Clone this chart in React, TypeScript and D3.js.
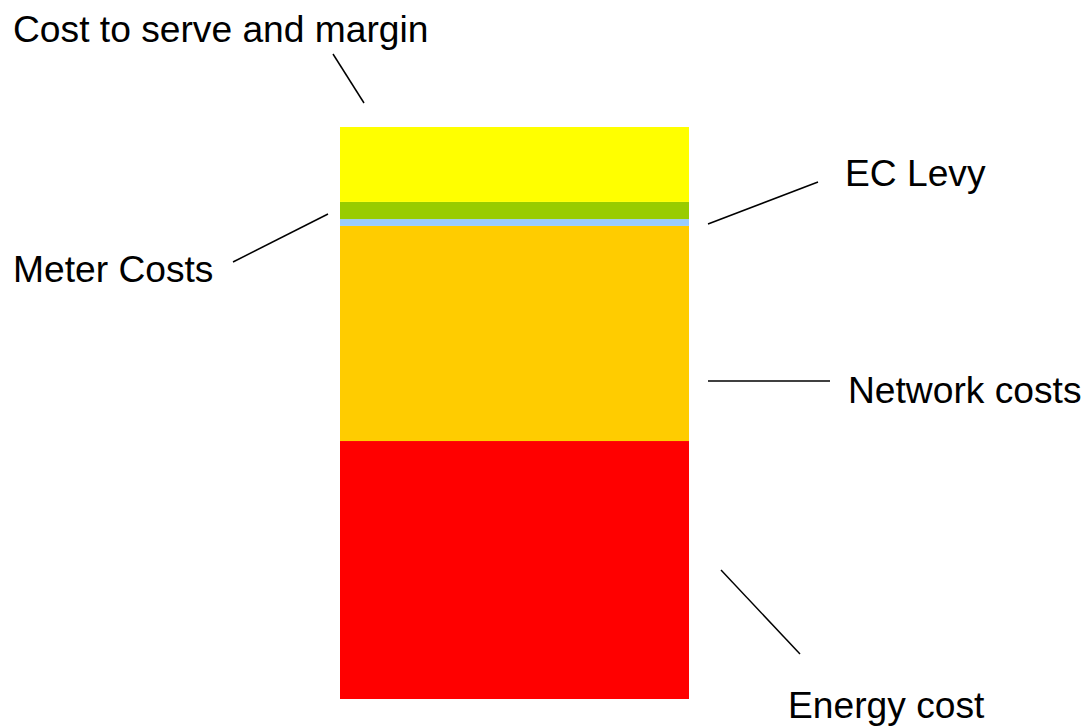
import React from "react";
import * as d3 from "d3";

// Stacked components of the price, bottom to top (share of total, %)
const components = ["Energy cost", "Network costs", "Meter Costs", "EC Levy", "Cost to serve and margin"];
const shares = [45.1, 37.6, 1.2, 3.0, 13.1];
const colours = ["#FF0000", "#FFCC00", "#99CCFF", "#99CC00", "#FFFF00"];
const barCategory = ["Price"];

const W = 1085;
const H = 727;

// Label placement: text anchor point and leader line endpoints
const labelLayout = [
  { text: "Energy cost", tx: 788, ty: 718, line: [721, 570, 800, 654] },
  { text: "Network costs", tx: 848, ty: 403, line: [708, 381, 830, 381] },
  { text: "Meter Costs", tx: 13, ty: 282, line: [233, 262, 328, 214] },
  { text: "EC Levy", tx: 845, ty: 186, line: [708, 224, 818, 182] },
  { text: "Cost to serve and margin", tx: 13, ty: 42, line: [333, 54, 364, 103] },
];

export default function App() {
  const x = d3.scaleBand<string>().domain(barCategory).range([340, 689]).padding(0);
  const y = d3.scaleLinear().domain([0, d3.sum(shares)]).range([699, 127]);

  const row: Record<string, number> = {};
  components.forEach((c, i) => (row[c] = shares[i]));
  const stacked = d3.stack<Record<string, number>>().keys(components)([row]);

  return (
    <svg
      width={W}
      height={H}
      style={{ position: "absolute", left: 0, top: 0, background: "#fff" }}
      fontFamily="'Liberation Sans', Arial, sans-serif"
    >
      {stacked.map((layer, i) => {
        const [y0, y1] = layer[0];
        return (
          <rect
            key={layer.key}
            x={x(barCategory[0])}
            width={x.bandwidth()}
            y={y(y1)}
            height={y(y0) - y(y1)}
            fill={colours[i]}
          />
        );
      })}
      {labelLayout.map((l) => (
        <g key={l.text}>
          <line x1={l.line[0]} y1={l.line[1]} x2={l.line[2]} y2={l.line[3]} stroke="#000" strokeWidth={1.5} />
          <text x={l.tx} y={l.ty} fontSize={37.2} fill="#000">
            {l.text}
          </text>
        </g>
      ))}
    </svg>
  );
}
